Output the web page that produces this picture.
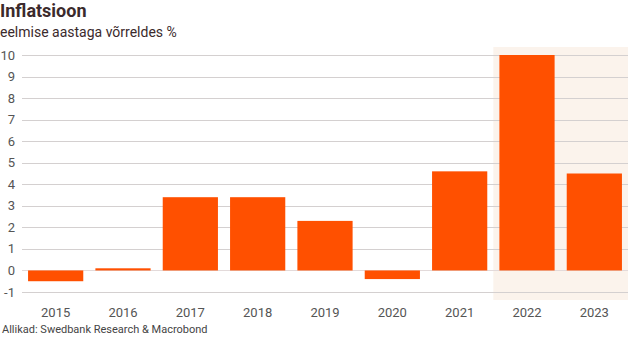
<!DOCTYPE html>
<html>
<head>
<meta charset="utf-8">
<script src="https://cdn.jsdelivr.net/npm/d3@7"></script>
<style>
  body { margin: 0; background: #fff; }
  text { font-family: Roboto, 'Noto Sans', sans-serif; }
</style>
</head>
<body>
<div class="chart"></div>
<script>
const years = ['2015', '2016', '2017', '2018', '2019', '2020', '2021', '2022', '2023']
const inflation = [-0.5, 0.1, 3.4, 3.4, 2.3, -0.4, 4.6, 10.0, 4.5]
const highlighted = ['2022', '2023']
const yTicks = [-1, 0, 1, 2, 3, 4, 5, 6, 7, 8, 9, 10]

const width = 642
const height = 340
const margin = {top: 55, right: 14, bottom: 48, left: 22}

const svg = d3
  .select('.chart')
  .append('svg')
  .attr('width', width)
  .attr('height', height)

const x = d3
  .scaleBand()
  .domain(years)
  .range([margin.left, width - margin.right])
  .paddingInner(0.18)
  .paddingOuter(0.09)

const y = d3
  .scaleLinear()
  .domain([-1, 10])
  .range([height - margin.bottom - 0.5 + 0.5 - 0, margin.top])

// shaded forecast area
const hx0 = x(highlighted[0]) - x.step() * x.paddingInner() / 2
svg
  .append('rect')
  .attr('x', hx0)
  .attr('y', y(10) - 8)
  .attr('width', width - margin.right - hx0)
  .attr('height', y(-1) - y(10) + 16)
  .attr('fill', '#fbf3ec')

// gridlines
svg
  .append('g')
  .selectAll('line')
  .data(yTicks)
  .join('line')
  .attr('x1', margin.left)
  .attr('x2', width - margin.right)
  .attr('y1', d => Math.round(y(d)) + 0.5)
  .attr('y2', d => Math.round(y(d)) + 0.5)
  .attr('stroke', d => (d === 0 ? '#e3dada' : '#d4d0d0'))
  .attr('stroke-width', 1)

// y labels
svg
  .append('g')
  .selectAll('text')
  .data(yTicks)
  .join('text')
  .attr('x', 15)
  .attr('y', d => y(d))
  .attr('dy', '0.35em')
  .attr('text-anchor', 'end')
  .attr('font-size', 13)
  .attr('fill', '#555')
  .text(d => d)

// bars
svg
  .append('g')
  .selectAll('rect')
  .data(years)
  .join('rect')
  .attr('x', d => x(d))
  .attr('width', x.bandwidth())
  .attr('y', (d, i) => y(Math.max(0, inflation[i])))
  .attr('height', (d, i) => Math.abs(y(inflation[i]) - y(0)))
  .attr('fill', '#ff5000')

// x labels
svg
  .append('g')
  .selectAll('text')
  .data(years)
  .join('text')
  .attr('x', d => x(d) + x.bandwidth() / 2)
  .attr('y', 312)
  .attr('dy', '0.35em')
  .attr('text-anchor', 'middle')
  .attr('font-size', 13)
  .attr('fill', '#555')
  .text(d => d)

svg
  .append('text')
  .attr('x', 0)
  .attr('y', 17)
  .attr('font-size', 18)
  .attr('font-weight', 'bold')
  .attr('fill', '#3b2a2c')
  .text('Inflatsioon')

svg
  .append('text')
  .attr('x', 0)
  .attr('y', 37)
  .attr('font-size', 14)
  .attr('fill', '#3b2a2c')
  .text('eelmise aastaga võrreldes %')

svg
  .append('text')
  .attr('x', 2)
  .attr('y', 333)
  .attr('font-size', 11)
  .attr('fill', '#444')
  .text('Allikad: Swedbank Research & Macrobond')
</script>
</body>
</html>
